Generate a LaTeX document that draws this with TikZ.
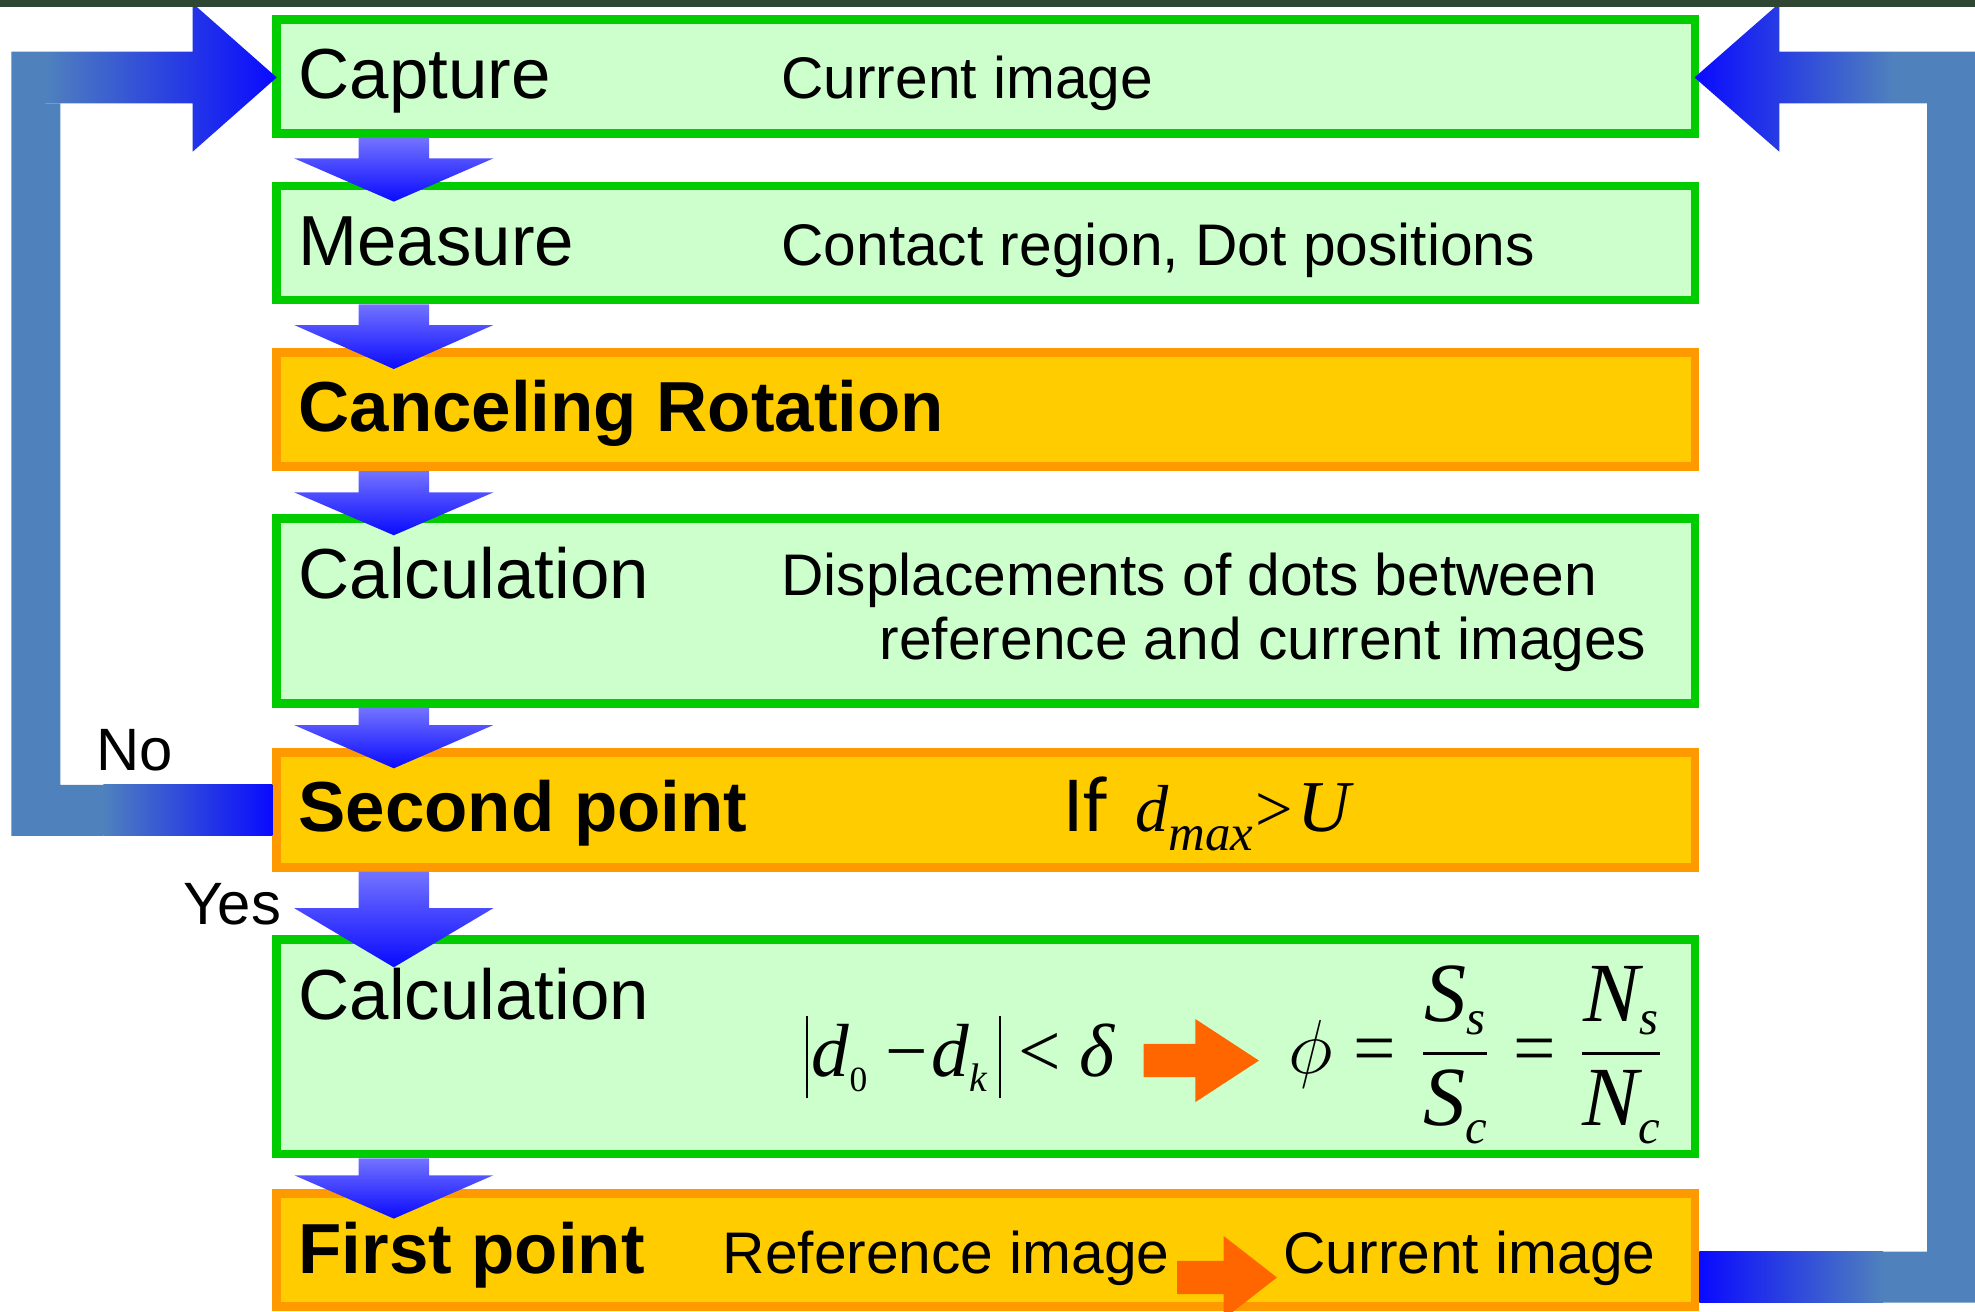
\documentclass[tikz,border=0pt]{standalone}
\usepackage{amsmath}
\usepackage{fontspec}
\setmainfont{Liberation Sans}
\newfontfamily\tmsfont{Liberation Serif}
\newfontfamily\calfont{Carlito}
\usetikzlibrary{calc}

\definecolor{boxgreen}{HTML}{CCFFCC}
\definecolor{edgegreen}{HTML}{00CC00}
\definecolor{boxorange}{HTML}{FFCC00}
\definecolor{edgeorange}{HTML}{FF9900}
\definecolor{hotorange}{HTML}{FF6600}
\definecolor{loopsteel}{HTML}{4F81BD}
\definecolor{flowblue}{HTML}{0A0AFF}
\definecolor{flowtop}{HTML}{7373FF}
\definecolor{topbar}{HTML}{2E4632}

% block arrow between two stacked boxes
\newcommand\flowdown[4]{%
  \shade[top color=flowtop, bottom color=flowblue]
    ($(#1.south west)+(68.4,0)$) -- ($(#1.south west)+(124.4,0)$)
    -- ($(#1.south west)+(124.4,#2)$) -- ($(#1.south west)+(175.4,#2)$)
    -- ($(#3.north west)+(96.4,#4)$)
    -- ($(#1.south west)+(17.4,#2)$) -- ($(#1.south west)+(68.4,#2)$) -- cycle;}
% orange block arrow, tail centre at #1
\newcommand\hotarrow[3]{%
  \fill[hotorange] #1 ++(0,-13.2) -- ++(#2,0) -- ++(0,-19.8) -- ++(#3,33)
    -- ++(-#3,33) -- ++(0,-19.8) -- ++(-#2,0) -- cycle;}
% italic letter with lowered index, for the ratio
\newcommand\idxvar[3]{\mbox{\fontsize{19}{20}\selectfont\itshape #1\lower#3\hbox{\fontsize{11}{12}\selectfont #2}}}

\begin{document}
\begin{tikzpicture}[x=0.01cm, y=-0.01cm,
  stepbox/.style={draw, line width=2pt, minimum width=11.253cm, inner sep=0pt},
  okbox/.style={stepbox, draw=edgegreen, fill=boxgreen},
  keybox/.style={stepbox, draw=edgeorange, fill=boxorange},
  lbl/.style={inner sep=0pt, anchor=base west, font=\fontsize{16}{19}\selectfont},
  keylbl/.style={lbl, font=\fontsize{16}{19}\selectfont\bfseries},
  desc/.style={inner sep=0pt, anchor=base west, font=\fontsize{13.25}{16}\selectfont},
  loopnote/.style={inner sep=0pt, anchor=base west, font=\fontsize{13.5}{16}\selectfont},
  eqn/.style={inner sep=0pt, anchor=base west, font=\tmsfont\fontsize{17}{20}\selectfont}]
  \useasboundingbox (0,0) rectangle (1568,1041);

  % steps
  \node[okbox,  minimum height=0.904cm] (capture) at (782.75,60.6)   {};
  \node[okbox,  minimum height=0.904cm] (measure) at (782.75,192.9)  {};
  \node[keybox, minimum height=0.904cm] (cancel)  at (782.75,325.2)  {};
  \node[okbox,  minimum height=1.465cm] (calc1)   at (782.75,485.25) {};
  \node[keybox, minimum height=0.910cm] (second)  at (782.75,643)    {};
  \node[okbox,  minimum height=1.703cm] (calc2)   at (782.75,830.95) {};
  \node[keybox, minimum height=0.898cm] (first)   at (782.75,992.6)  {};

  % texts
  \node[lbl]    (capturelbl)  at ($(capture.north west)+(20,66.5)$)    {Capture};
  \node[desc]   (capturedesc) at ($(capture.north west)+(403.4,66.5)$) {Current image};
  \node[lbl]    (measurelbl)  at ($(measure.north west)+(20,66.5)$)    {Measure};
  \node[desc]   (measuredesc) at ($(measure.north west)+(403.4,66.5)$) {Contact region, Dot positions};
  \node[keylbl] (cancellbl)   at ($(cancel.north west)+(20,66.5)$)     {Canceling Rotation};
  \node[lbl]    (calc1lbl)    at ($(calc1.north west)+(20,67)$)        {Calculation};
  \node[desc]   (calc1desca)  at ($(calc1.north west)+(403.4,64.7)$)   {Displacements of dots between};
  \node[desc]   (calc1descb)  at ($(calc1.north west)+(481.5,115.5)$)  {reference and current images};
  \node[keylbl] (secondlbl)   at ($(second.north west)+(20,66.5)$)     {Second point};
  \node[inner sep=0pt, anchor=base west, font=\calfont\fontsize{18}{21}\selectfont]
                (iftxt)       at ($(second.north west)+(627.4,66.5)$)  {If};
  \node[inner sep=0pt, anchor=base west, font=\tmsfont\fontsize{15}{17}\selectfont\itshape]
                (dmax)        at ($(second.north west)+(684.4,66.5)$)
                {d\lower4.1pt\hbox{\fontsize{11.5}{13}\selectfont max}\hspace{0.5pt}{\upshape >}\hspace{1pt}{\fontsize{16.5}{17}\selectfont U}};
  \node[lbl]    (calc2lbl)    at ($(calc2.north west)+(20,67)$)        {Calculation};
  \node[eqn]    (cond)        at ($(calc2.north west)+(422.6,112.5)$)
                {\rule[-4.9pt]{0.6pt}{18.5pt}\hspace{0.8pt}\textit{d}\lower3.4pt\hbox{\fontsize{8}{9}\selectfont 0}\hspace{4pt}−\hspace{1pt}\textit{d}\lower3.4pt\hbox{\fontsize{9}{10}\selectfont\itshape k}\hspace{2.5pt}\rule[-4.9pt]{0.6pt}{18.5pt}\hspace{4pt}<\hspace{4pt}\textit{δ}};
  \node[eqn]    (ratio)       at ($(calc2.north west)+(805.9,109.7)$)
                {$\phi\mathrel{\mbox{=}}\dfrac{\idxvar{S}{s}{3pt}}{\idxvar{S}{c}{4.1pt}}\mathrel{\mbox{=}}\dfrac{\idxvar{N}{s}{3pt}}{\idxvar{N}{c}{4.1pt}}$};
  \node[keylbl] (firstlbl)    at ($(first.north west)+(20,66.5)$)      {First point};
  \node[desc]   (refimg)      at ($(first.north west)+(356.9,66.5)$)   {Reference image};
  \node[desc]   (curimg)      at ($(first.north west)+(802.1,66.5)$)   {Current image};
  \node[loopnote] (nolbl)  at (76,612)  {No};
  \node[loopnote] (yeslbl) at (145,734) {Yes};

  % flow between steps
  \flowdown{capture}{16.4}{measure}{15.9}
  \flowdown{measure}{16.4}{cancel}{16.5}
  \flowdown{cancel}{17}{calc1}{16.5}
  \flowdown{calc1}{13.6}{second}{16}
  \flowdown{second}{29}{calc2}{25.7}
  \flowdown{calc2}{13.4}{first}{23.3}

  % inline arrows
  \hotarrow{(908,842)}{41}{50.5}
  \hotarrow{(934.5,1014.2)}{36.9}{42.4}

  % No: back to capture
  \fill[loopsteel] (9,41) -- (36,41) -- (36,82) -- (48,82) -- (48,623.2)
    -- (82,623.2) -- (82,663.6) -- (9,663.6) -- cycle;
  \shade[left color=loopsteel, right color=flowblue]
    (82,623.2) rectangle ($(second.west)+(0,20.6)$);
  \shade[left color=loopsteel, right color=flowblue]
    (36,41) -- (153,41) -- (153,2.6) -- ($(capture.west)+(3.4,0.9)$)
    -- (153,120.4) -- (153,82) -- (36,82) -- cycle;

  % first point: back to capture
  \fill[loopsteel] (1503,41) -- (1569,41) -- (1569,1034.2) -- (1495,1034.2)
    -- (1495,993.7) -- (1530,993.7) -- (1530,82) -- (1503,82) -- cycle;
  \shade[left color=flowblue, right color=loopsteel]
    ($(first.east)+(0,1.1)$) rectangle (1495,1034.2);
  \shade[left color=flowblue, right color=loopsteel]
    ($(capture.east)+(-3.9,0.9)$) -- (1412.6,2.6) -- (1412.6,41) -- (1503,41)
    -- (1503,82) -- (1412.6,82) -- (1412.6,120.4) -- cycle;

  \fill[topbar] (0,0) rectangle (1568,5.3);
\end{tikzpicture}
\end{document}
